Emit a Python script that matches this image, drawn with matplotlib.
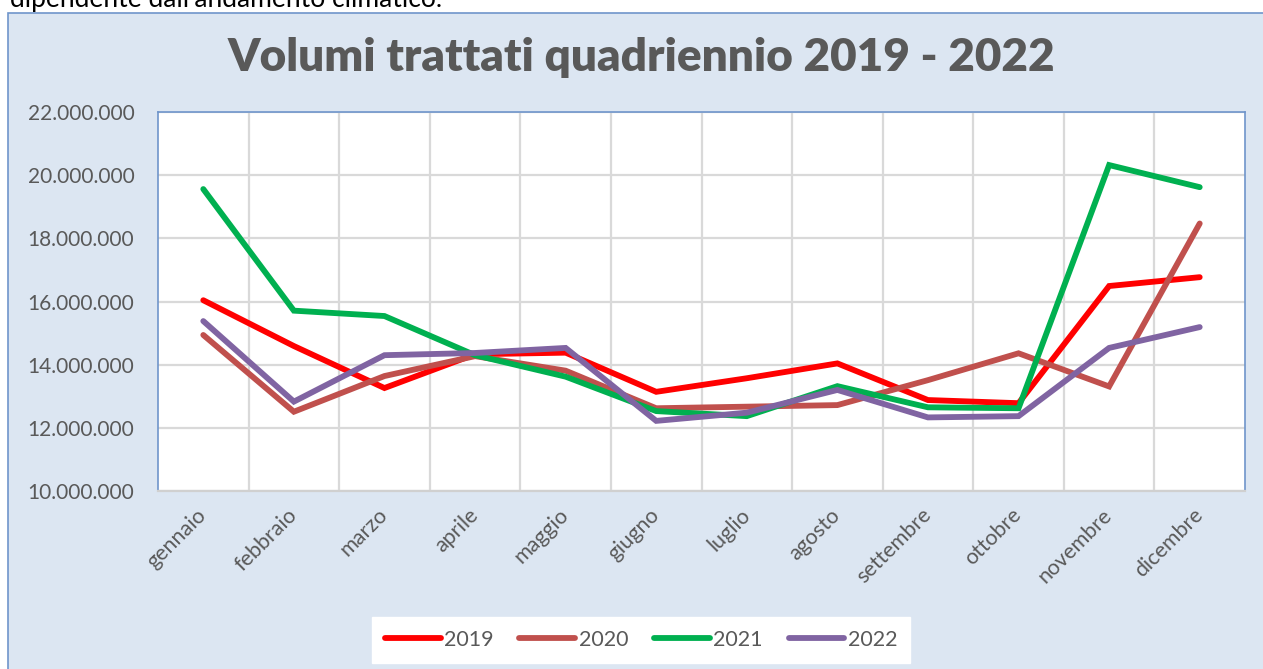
import matplotlib.pyplot as plt
from matplotlib.patches import Rectangle
from matplotlib.ticker import FuncFormatter, MultipleLocator

mesi = ["gennaio", "febbraio", "marzo", "aprile", "maggio", "giugno",
        "luglio", "agosto", "settembre", "ottobre", "novembre", "dicembre"]

v2019 = [16040000, 14590000, 13260000, 14330000, 14380000, 13140000,
         13570000, 14040000, 12880000, 12780000, 16490000, 16770000]
v2020 = [14940000, 12510000, 13640000, 14270000, 13810000, 12620000,
         12670000, 12720000, 13510000, 14360000, 13310000, 18470000]
v2021 = [19560000, 15710000, 15540000, 14300000, 13620000, 12530000,
         12370000, 13320000, 12650000, 12620000, 20320000, 19620000]
v2022 = [15380000, 12830000, 14300000, 14370000, 14530000, 12220000,
         12480000, 13200000, 12330000, 12370000, 14530000, 15190000]

serie = [("2019", v2019, "#FF0000"), ("2020", v2020, "#C0504D"),
         ("2021", v2021, "#00B050"), ("2022", v2022, "#8064A2")]

plt.rcParams['font.family'] = ['Lato', 'DejaVu Sans']
testo = "#595959"

W, H = 1263, 669
fig = plt.figure(figsize=(W / 100, H / 100), dpi=100)
fig.patch.set_facecolor("white")

# area del grafico (sfondo azzurro)
fig.patches.append(Rectangle((8 / W, -0.05), 1.1, 1 - 13 / H + 0.05,
                             transform=fig.transFigure, facecolor="#DCE6F2",
                             edgecolor="#6F95CB", linewidth=1.2, zorder=-10))

# riga di testo tagliata in alto (come nel documento originale)
fig.text(10 / W, 1 - 7 / H, "dipendente dall'andamento climatico.",
         fontsize=19, color="black", va="baseline", ha="left")

fig.text(641 / W, 1 - 58 / H, "Volumi trattati quadriennio 2019 - 2022",
         fontsize=33, fontweight="heavy", color=testo, ha="center", va="center")

ax = fig.add_axes([158 / W, 1 - 491 / H, (1245 - 158) / W, (491 - 112) / H])
ax.set_facecolor("white")

x = range(len(mesi))
for nome, valori, colore in serie:
    ax.plot(x, valori, color=colore, linewidth=4.2, label=nome,
            solid_capstyle="round", solid_joinstyle="miter", zorder=3)

ax.set_xlim(-0.5, len(mesi) - 0.5)
ax.set_ylim(10000000, 22000000)
ax.yaxis.set_major_locator(MultipleLocator(2000000))
ax.yaxis.set_major_formatter(FuncFormatter(lambda v, p: f"{int(v):,}".replace(",", ".")))

ax.set_xticks(list(x))
ax.set_xticks([i + 0.5 for i in range(len(mesi) - 1)], minor=True)
ax.set_xticklabels(mesi, rotation=45, ha="right", va="center",
                   rotation_mode="anchor", fontsize=15.5, color=testo)
ax.tick_params(axis="x", which="both", length=0, pad=15)
ax.tick_params(axis="y", length=0, pad=17, labelsize=15, labelcolor=testo)

ax.grid(axis="y", which="major", color="#D9D9D9", linewidth=1.6, zorder=1)
ax.grid(axis="x", which="minor", color="#D9D9D9", linewidth=1.6, zorder=1)
ax.grid(axis="x", which="major", visible=False)

for lato in ("left", "top", "right"):
    ax.spines[lato].set_color("#6F95CB")
    ax.spines[lato].set_linewidth(1.2)
ax.spines["bottom"].set_color("#D0D0D0")
ax.spines["bottom"].set_linewidth(1.6)

leg = fig.legend(loc="center", bbox_to_anchor=(641 / W, 1 - 640 / H), ncol=4,
                 frameon=True, fontsize=15.5, handlelength=2.6, handletextpad=0.15,
                 columnspacing=1.2, borderpad=0.6, borderaxespad=0, fancybox=False)
leg.get_frame().set_facecolor("white")
leg.get_frame().set_edgecolor("white")
leg.get_frame().set_alpha(1)
for t in leg.get_texts():
    t.set_color(testo)

fig.savefig("out.png", dpi=100)
